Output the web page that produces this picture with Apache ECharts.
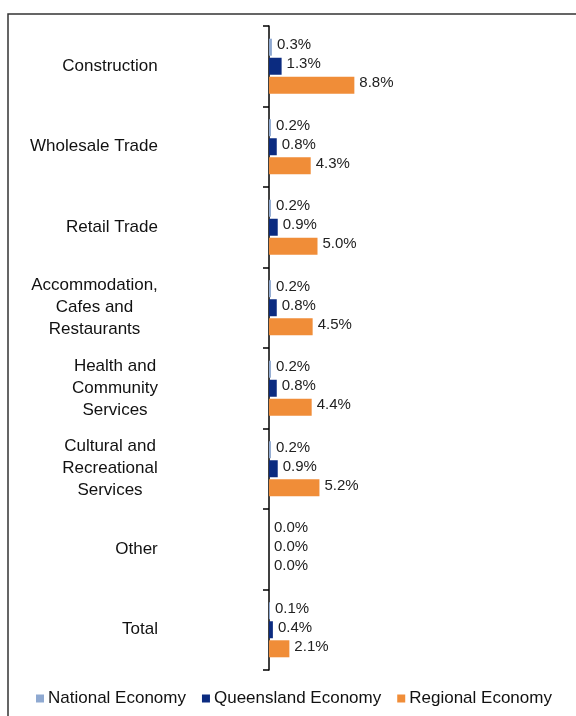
<!DOCTYPE html>
<html>
<head>
<meta charset="utf-8">
<script src="https://cdn.jsdelivr.net/npm/echarts@6/dist/echarts.min.js"></script>
<style>
html,body{margin:0;padding:0;background:#fff;}
#chart{width:576px;height:716px;}
</style>
</head>
<body>
<div id="chart"></div>
<script>
const categories = [
  'Construction',
  'Wholesale Trade',
  'Retail Trade',
  'Accommodation,\nCafes and\nRestaurants',
  'Health and\nCommunity\nServices',
  'Cultural and\nRecreational\nServices',
  'Other',
  'Total'
];
const seriesNames = ['National Economy', 'Queensland Economy', 'Regional Economy'];
const nationalValues   = [0.3, 0.2, 0.2, 0.2, 0.2, 0.2, 0.0, 0.1];
const queenslandValues = [1.3, 0.8, 0.9, 0.8, 0.8, 0.9, 0.0, 0.4];
const regionalValues   = [8.8, 4.3, 5.0, 4.5, 4.4, 5.2, 0.0, 2.1];

const colors = ['#8FA9D1', '#0B2B80', '#F08D38'];
const fam = '"Liberation Sans", Arial, sans-serif';
const catSize = 17;

// measure widest line of each category label so lines can be centred within a right-aligned block
const cv = document.createElement('canvas').getContext('2d');
cv.font = catSize + 'px ' + fam;
const rich = {};
categories.forEach((c, i) => {
  const w = Math.max(...c.split('\n').map(s => cv.measureText(s).width));
  rich['w' + i] = { width: Math.ceil(w), align: 'center', fontSize: catSize, lineHeight: 22,
    fontFamily: fam, color: '#111' };
});

const chart = echarts.init(document.getElementById('chart'), null, { renderer: 'canvas' });

function mkSeries(name, data, color) {
  return {
    name: name,
    type: 'bar',
    data: data,
    barWidth: 17,
    barGap: '12%',
    itemStyle: { color: color },
    label: {
      show: true,
      position: 'right',
      distance: 5,
      offset: [0, -2],
      formatter: p => p.value.toFixed(1) + '%',
      fontSize: 15,
      fontFamily: fam,
      color: '#222'
    },
    animation: false
  };
}

chart.setOption({
  animation: false,
  grid: { left: 269, right: 16, top: 26, bottom: 46, containLabel: false },
  xAxis: { type: 'value', min: 0, max: 30, show: false },
  yAxis: {
    type: 'category',
    data: categories,
    inverse: true,
    axisLine: { show: true, lineStyle: { color: '#000', width: 1.5 } },
    axisTick: { show: true, length: 6, lineStyle: { color: '#000', width: 1.5 } },
    axisLabel: {
      margin: 111,
      align: 'right',
      formatter: (v) => {
        const i = categories.indexOf(v);
        return v.split('\n').map(s => '{w' + i + '|' + s + '}').join('\n');
      },
      rich: rich
    },
    splitLine: { show: false }
  },
  legend: {
    data: seriesNames,
    left: 36,
    top: 690,
    padding: 0,
    icon: 'rect',
    itemWidth: 8,
    itemHeight: 8,
    itemGap: 16,
    textStyle: { fontSize: 17, fontFamily: fam, color: '#111', padding: [0, 0, 0, -1] }
  },
  graphic: [{
    type: 'rect',
    shape: { x: 8, y: 14, width: 700, height: 900 },
    style: { fill: 'none', stroke: '#333', lineWidth: 1.5 },
    silent: true
  }],
  series: [
    mkSeries(seriesNames[0], nationalValues, colors[0]),
    mkSeries(seriesNames[1], queenslandValues, colors[1]),
    mkSeries(seriesNames[2], regionalValues, colors[2])
  ]
});
</script>
</body>
</html>
